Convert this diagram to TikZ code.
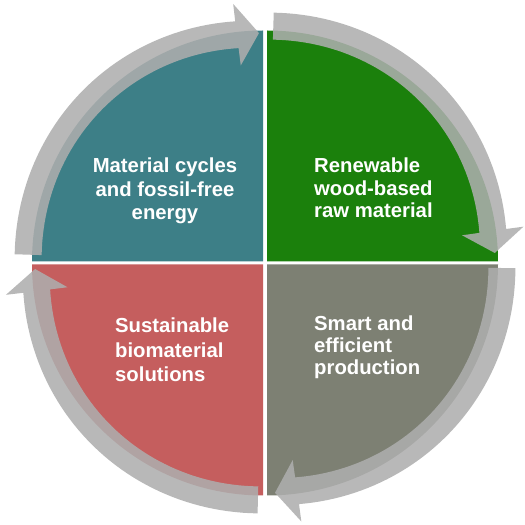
\documentclass[tikz,border=0pt]{standalone}
\usepackage{fontspec}
\setmainfont{Liberation Sans}
\definecolor{qteal}{HTML}{3D7F87}
\definecolor{qgreen}{HTML}{1B800C}
\definecolor{qred}{HTML}{C55E5E}
\definecolor{qgray}{HTML}{7D8073}
\definecolor{arrowgray}{HTML}{AEAEAE}
\tikzset{
  arrowfill/.style={fill=arrowgray, fill opacity=0.87},
  quadtext/.style={text=white, inner sep=0pt, font=\bfseries\fontsize{20.3}{23}\selectfont},
}
\newcommand{\cycarrow}[2]{%
  \pgfmathsetmacro{\ta}{#1}%
  \pgfmathsetmacro{\hb}{#2+5.5}%
  \fill[arrowfill] plot[domain=0:1,samples=50] ({\ta+(\hb-\ta)*\x}:{237-7*\x+4*sin(180*\x)+13.5})
    -- (\hb:{230+31}) -- (#2:230) -- (\hb:{230-31})
    -- plot[domain=0:1,samples=50] ({\ta+(\hb-\ta)*(1-\x)}:{237-7*(1-\x)+4*sin(180*(1-\x))-13.5}) -- cycle;
}
\begin{document}
\begin{tikzpicture}[x=1pt,y=1pt]
\useasboundingbox (0,0) rectangle (525,525);
\fill[white] (0,0) rectangle (525,525);
% quadrants
\fill[qteal]  (263,263.5) -- ++(-231,0) arc[start angle=180, end angle=90, radius=231] -- cycle;
\fill[qgreen] (267,263.5) -- ++(0,231) arc[start angle=90, end angle=0, radius=231] -- cycle;
\fill[qgray]  (267,260.5) -- ++(231,0) arc[start angle=0, end angle=-90, radius=231] -- cycle;
\fill[qred]   (263,260.5) -- ++(0,-231) arc[start angle=270, end angle=180, radius=231] -- cycle;
% arrows
\begin{scope}[shift={(265,262)}]
\cycarrow{178}{91.5}
\cycarrow{88}{2.5}
\cycarrow{-1.2}{-87.5}
\cycarrow{268.3}{181.5}
\end{scope}
% texts (base anchor = baseline of the last line)
\node[quadtext, align=center, anchor=base, font=\bfseries\fontsize{20.3}{23.5}\selectfont] (t1) at (165,305) {Material cycles\\and fossil-free\\energy};
\node[quadtext, align=left, anchor=base west, font=\bfseries\fontsize{20.3}{22.5}\selectfont] (t2) at (314,307) {Renewable\\wood-based\\raw material};
\node[quadtext, align=left, anchor=base west, font=\bfseries\fontsize{20.3}{24.5}\selectfont] (t3) at (115,143.3) {Sustainable\\biomaterial\\solutions};
\node[quadtext, align=left, anchor=base west, font=\bfseries\fontsize{20.3}{22}\selectfont] (t4) at (314,150) {Smart and\\efficient\\production};
\end{tikzpicture}
\end{document}
